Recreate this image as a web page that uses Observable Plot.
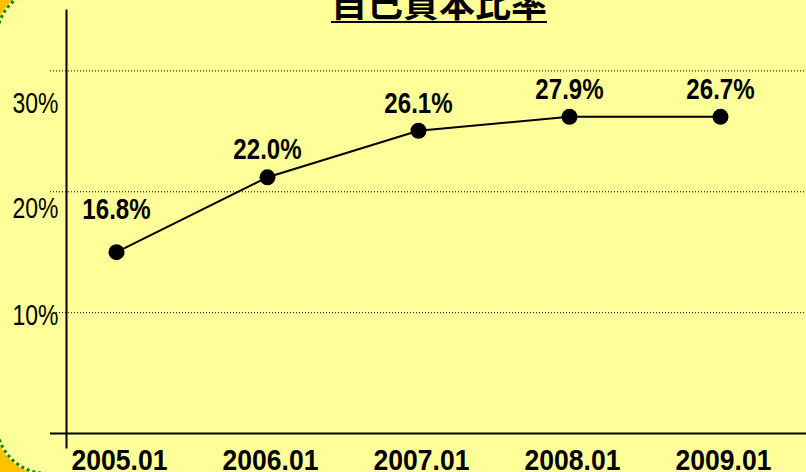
<!DOCTYPE html>
<html><head><meta charset="utf-8">
<script src="https://cdn.jsdelivr.net/npm/d3@7"></script>
<script src="https://cdn.jsdelivr.net/npm/@observablehq/plot@0.6"></script>
<style>
html,body{margin:0;padding:0;}
body{width:806px;height:472px;overflow:hidden;position:relative;background:#FFC000;}
#bg{position:absolute;left:-5px;top:-13px;width:900px;height:488px;border-radius:52px;background:#FFFF99;border:3px dotted #008a00;box-sizing:border-box;}
#title{position:absolute;left:0;width:878px;top:-17px;text-align:center;font-family:"Noto Sans CJK JP",sans-serif;font-weight:bold;font-size:36px;line-height:36px;text-decoration:underline;text-decoration-thickness:2px;text-underline-offset:4px;color:#000;}
#chart{position:absolute;left:0;top:0;}
</style></head>
<body>
<div id="bg"></div>
<div id="chart"></div>
<div id="title">自己資本比率</div>
<script>
// Data
const periods = ["2005.01", "2006.01", "2007.01", "2008.01", "2009.01"];
const ratios = [15.0, 21.2, 25.05, 26.2, 26.2];          // plotted positions (%)
const valueLabels = ["16.8%", "22.0%", "26.1%", "27.9%", "26.7%"];
const yTicks = [10, 20, 30];
const yTickLabels = ["10%", "20%", "30%"];

const data = periods.map((p, i) => ({period: p, value: ratios[i], label: valueLabels[i]}));
const font = '"Liberation Sans","Arial",sans-serif';
const tickDy = [3, 17, 33];

const chart = Plot.plot({
  width: 806, height: 472,
  marginLeft: 50, marginRight: 0, marginTop: 10, marginBottom: 25,
  style: {background: "transparent", overflow: "visible", fontFamily: font, color: "black"},
  x: {type: "point", domain: periods, padding: 0, insetLeft: 66, insetRight: 86, axis: null, label: null},
  y: {domain: [0, 35], insetBottom: 14, axis: null, label: null},
  marks: [
    Plot.ruleY(yTicks, {stroke: "black", strokeWidth: 1, strokeDasharray: "1,2"}),
    Plot.ruleY([0], {stroke: "black", strokeWidth: 2}),
    Plot.frame({anchor: "left", dx: 16, stroke: "black", strokeWidth: 2}),
    ...yTicks.map((v, i) => Plot.axisY([v], {
      anchor: "left", label: null, tickSize: 0, tickPadding: 0, dx: 8, dy: tickDy[i],
      tickFormat: d => yTickLabels[yTicks.indexOf(d)], fontSize: 29, fill: "black"
    })),
    Plot.axisX({anchor: "bottom", label: null, tickSize: 0, tickPadding: 1, dx: 3, fontSize: 30, fontWeight: "bold", fill: "black"}),
    Plot.line(data, {x: "period", y: "value", stroke: "black", strokeWidth: 2}),
    Plot.dot(data, {x: "period", y: "value", r: 8, fill: "black"}),
    Plot.text(data.slice(0, 1), {x: "period", y: "value", text: "label", lineAnchor: "bottom", dy: -33, fontSize: 29, fontWeight: "bold", fill: "black"}),
    Plot.text(data.slice(1), {x: "period", y: "value", text: "label", lineAnchor: "bottom", dy: -18, fontSize: 29, fontWeight: "bold", fill: "black"})
  ]
});
document.getElementById("chart").appendChild(chart);

// condense the lettering (the original uses a narrow face)
function condense(selector, f) {
  chart.querySelectorAll(selector).forEach(t => {
    const len = t.getComputedTextLength();
    t.setAttribute("textLength", (len * f).toFixed(1));
    t.setAttribute("lengthAdjust", "spacingAndGlyphs");
  });
}
condense('g[aria-label="y-axis tick label"] text', 0.79);
condense('g[aria-label="x-axis tick label"] text', 0.885);
condense('g[aria-label="text"] text', 0.83);
</script>
</body></html>
